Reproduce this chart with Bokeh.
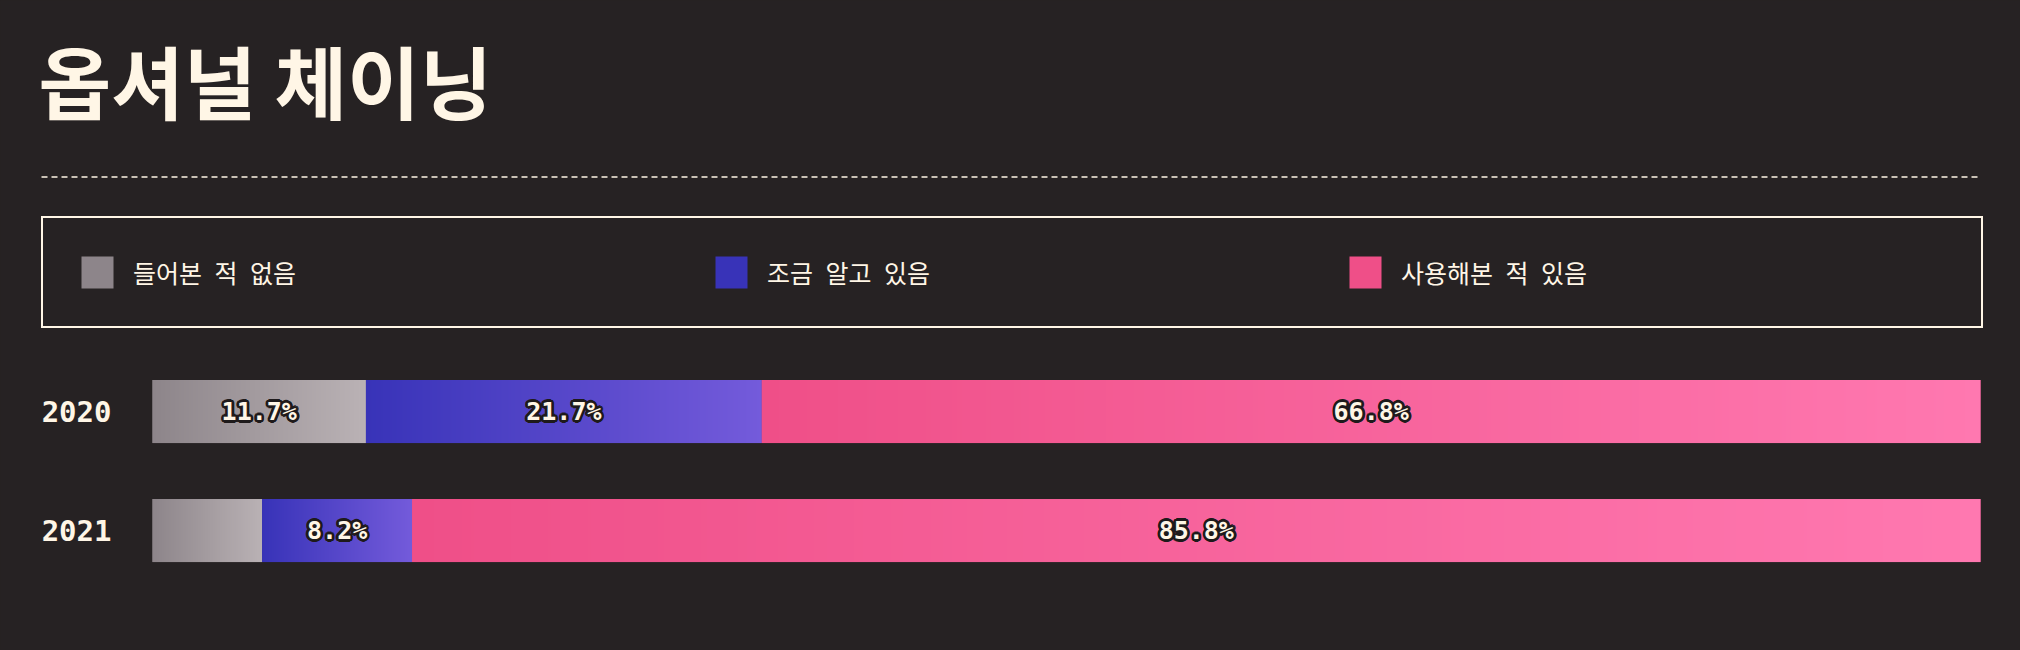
import numpy as np
from bokeh.plotting import figure
from bokeh.models import (ColumnDataSource, Range1d, Legend, LegendItem,
                          Label, Arrow, GlobalInlineStyleSheet)
from bokeh.core.properties import value
from bokeh.embed import file_html
from bokeh.resources import INLINE

# ---------------- data ----------------
title_text = "옵셔널 체이닝"
years = ["2020", "2021"]
categories = ["들어본 적 없음", "조금 알고 있음", "사용해본 적 있음"]
never_heard = [11.7, 6.0]
know_little = [21.7, 8.2]
have_used = [66.8, 85.8]
series = [never_heard, know_little, have_used]

# ---------------- style ----------------
BG = "#262223"
CREAM = "#FFF6E6"
OUTLINE = "#1E1A1B"
grad_start = ["#8D858A", "#3833B8", "#EF4F88"]
grad_end = ["#BAB2B5", "#745BDB", "#FF78B0"]
BAR_H = 0.53
MONO = "DejaVu Sans Mono"

p = figure(width=2020, height=650, output_backend="svg", toolbar_location=None,
           x_range=Range1d(-8.315, 102.188), y_range=Range1d(-1.008, 4.454),
           x_axis_location=None, y_axis_location=None,
           background_fill_color=BG, border_fill_color=BG, outline_line_color=None,
           min_border=0)
p.stylesheets = [GlobalInlineStyleSheet(css=f"body{{background-color:{BG};}}")]
p.xgrid.visible = False
p.ygrid.visible = False

# row positions (first year on top)
ypos = [len(years) - 1 - i for i in range(len(years))]

# stacked, normalised to each row's total
totals = [sum(s[i] for s in series) for i in range(len(years))]
lefts = []
rights = []
acc = [0.0] * len(years)
for s in series:
    l = list(acc)
    r = [acc[i] + s[i] / totals[i] * 100 for i in range(len(years))]
    lefts.append(l)
    rights.append(r)
    acc = r


def hex_rgb(h):
    h = h.lstrip("#")
    return np.array([int(h[i:i + 2], 16) for i in (0, 2, 4)], dtype=float)


def gradient(c0, c1, n=512):
    a, b = hex_rgb(c0), hex_rgb(c1)
    t = np.linspace(0, 1, n)[:, None]
    rgb = a + (b - a) * t
    img = np.empty((1, n), dtype=np.uint32)
    v = img.view(dtype=np.uint8).reshape((1, n, 4))
    v[0, :, :3] = np.round(rgb).astype(np.uint8)
    v[0, :, 3] = 255
    return img


legend_items = []
for k, cat in enumerate(categories):
    src = ColumnDataSource(dict(y=ypos, left=lefts[k], right=rights[k], val=series[k]))
    r = p.hbar(y="y", left="left", right="right", height=BAR_H, source=src,
               fill_color=grad_start[k], line_color=None)
    legend_items.append(LegendItem(label=cat, renderers=[r]))
    img = gradient(grad_start[k], grad_end[k])
    p.image_rgba(image=[img] * len(years), x=lefts[k],
                 y=[y - BAR_H / 2 for y in ypos],
                 dw=[rights[k][i] - lefts[k][i] for i in range(len(years))],
                 dh=[BAR_H] * len(years))

# percentage labels
lx, ly, lt = [], [], []
for k in range(len(categories)):
    for i in range(len(years)):
        if series[k][i] >= 7:
            lx.append((lefts[k][i] + rights[k][i]) / 2)
            ly.append(ypos[i])
            lt.append(f"{series[k][i]:.1f}%")

# dark halo behind the labels
angles = np.linspace(0, 2 * np.pi, 16, endpoint=False)
ox, oy, ot, oxo, oyo = [], [], [], [], []
for j in range(len(lt)):
    for a in angles:
        ox.append(lx[j]); oy.append(ly[j]); ot.append(lt[j])
        oxo.append(2.6 * np.cos(a)); oyo.append(2.6 * np.sin(a))
halo = ColumnDataSource(dict(x=ox, y=oy, t=ot, xo=oxo, yo=oyo))
p.text(x="x", y="y", text="t", source=halo, x_offset="xo", y_offset="yo",
       text_align="center", text_baseline="middle",
       text_font=value(MONO), text_font_style="bold", text_font_size="25px",
       text_color=OUTLINE)
lsrc = ColumnDataSource(dict(x=lx, y=ly, t=lt))
p.text(x="x", y="y", text="t", source=lsrc, text_align="center", text_baseline="middle",
       text_font=value(MONO), text_font_style="bold", text_font_size="25px",
       text_color=CREAM)

# year labels, placed left of the bars' zero line
ysrc = ColumnDataSource(dict(x=[0] * len(years), y=ypos, t=years))
p.text(x="x", y="y", text="t", source=ysrc, x_offset=-41, text_align="right",
       text_baseline="middle", text_font=value(MONO), text_font_style="bold",
       text_font_size="29px", text_color=CREAM)

# title
p.add_layout(Label(x=38, y=571, x_units="screen", y_units="screen", text=title_text,
                   text_font="Noto Sans CJK KR", text_font_style="bold",
                   text_font_size="79px", text_color=CREAM, text_baseline="middle",
                   text_align="left"))

# dashed separator
p.add_layout(Arrow(start=None, end=None, x_start=41, y_start=473.5, x_end=1980, y_end=473.5,
                   start_units="screen", end_units="screen", line_color=CREAM,
                   line_width=1.5, line_dash="6 4"))

# legend
legend = Legend(items=legend_items, orientation="horizontal", location=(41, 322),
                padding=34, spacing=32, margin=0,
                glyph_width=40, glyph_height=40, label_standoff=16, label_width=546,
                label_height=40,
                label_text_font="Noto Sans Mono CJK KR, Noto Sans CJK KR",
                label_text_font_size="25px", label_text_color=CREAM,
                background_fill_color=BG, background_fill_alpha=1.0,
                border_line_color=CREAM, border_line_alpha=1.0, border_line_width=2)
p.add_layout(legend, "center")

open("out.html", "w").write(file_html(p, INLINE))
